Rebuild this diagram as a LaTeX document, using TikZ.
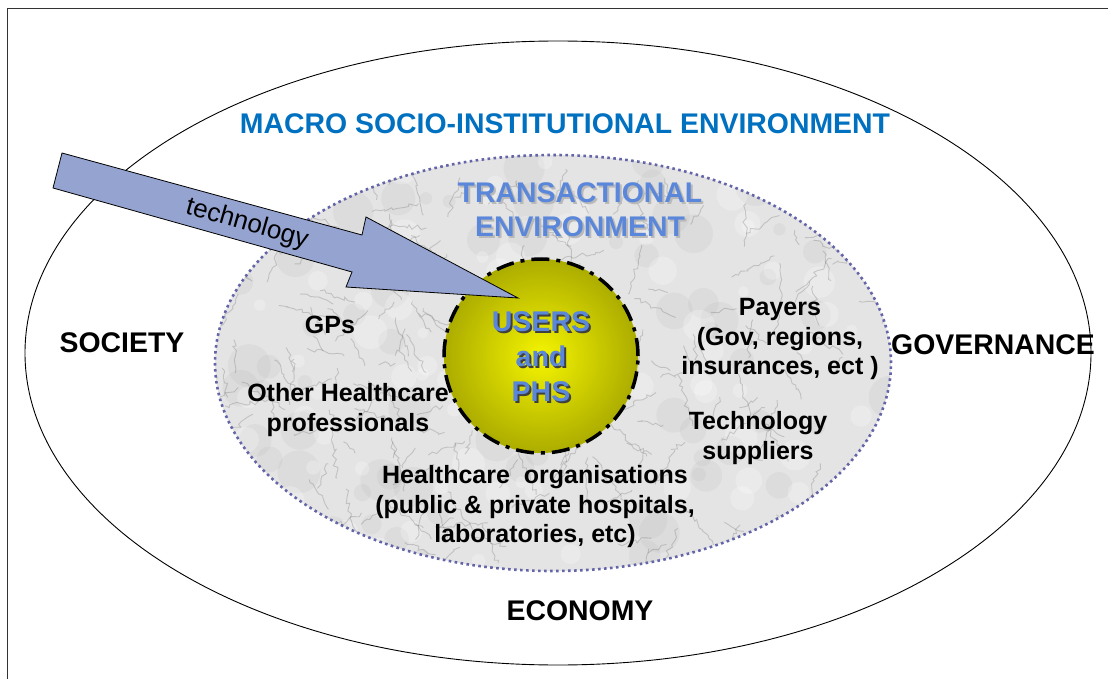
\documentclass[tikz,border=0pt]{standalone}
\usepackage{fontspec}
\setmainfont{Liberation Sans}
\usetikzlibrary{shapes.geometric,decorations.pathmorphing}

\definecolor{macroblue}{HTML}{0070C0}
\definecolor{transblue}{HTML}{5B87DA}
\definecolor{dotpurple}{HTML}{6464A8}
\definecolor{arrowfill}{HTML}{94A3D0}
\definecolor{coreedge}{HTML}{ACAC00}
\definecolor{corecentre}{HTML}{F4F400}
\definecolor{marblebase}{HTML}{E4E4E4}

\tikzset{
  bigcaps/.style={font=\fontsize{28.4}{34}\selectfont\bfseries},
  label/.style={font=\fontsize{25}{29.5}\selectfont\bfseries, align=center, text=black},
  vein/.style={gray!70!black, opacity=0.25, line width=0.9pt, decorate,
    decoration={random steps, segment length=4pt, amplitude=2.5pt}},
  blotch/.style={gray!80!black, opacity=0.06},
}

\begin{document}
\begin{tikzpicture}[x=1pt,y=-1pt]
\useasboundingbox (0,0) rectangle (1108,679);
\fill[white] (0,0) rectangle (1108,679);

% page frame
\coordinate (frameBL) at (7,679);
\coordinate (frameTL) at (7,9);
\coordinate (frameTR) at (1108,9);
\draw[line width=1pt, black!80] (frameBL) -- (frameTL) -- (frameTR);

% macro environment
\node[ellipse, draw, line width=0.9pt, minimum width=1066pt, minimum height=624pt, inner sep=0pt] (macro) at (558,353) {};

% transactional environment: marble fill
\begin{scope}
  \clip (553,363) ellipse [x radius=338pt, y radius=208pt];
  \fill[marblebase] (200,140) rectangle (900,590);
  \pgfmathsetseed{7}
  \foreach \k in {1,...,90}{
    \pgfmathsetmacro{\mx}{215+676*rnd}
    \pgfmathsetmacro{\my}{155+416*rnd}
    \pgfmathsetmacro{\mr}{6+16*rnd}
    \fill[blotch] (\mx,\my) circle (\mr pt);
  }
  \foreach \k in {1,...,90}{
    \pgfmathsetmacro{\mx}{215+676*rnd}
    \pgfmathsetmacro{\my}{155+416*rnd}
    \pgfmathsetmacro{\mr}{5+12*rnd}
    \fill[white, opacity=0.25] (\mx,\my) circle (\mr pt);
  }
  \foreach \k in {1,...,240}{
    \pgfmathsetmacro{\mx}{215+676*rnd}
    \pgfmathsetmacro{\my}{155+416*rnd}
    \pgfmathsetmacro{\ma}{360*rnd}
    \pgfmathsetmacro{\ml}{15+40*rnd}
    \draw[vein] (\mx,\my) -- ++(\ma:\ml pt);
  }
\end{scope}
\node[ellipse, draw=dotpurple, line width=2.6pt, dash pattern=on 2.6pt off 3.4pt,
      minimum width=676pt, minimum height=416pt, inner sep=0pt] (trans) at (553,363) {};

% users and PHS core
\node[circle, minimum size=194pt, inner sep=0pt, inner color=corecentre, outer color=coreedge] (coreFill) at (541,356) {};
\node[circle, draw, line width=3.5pt, dash pattern=on 18pt off 7pt on 4pt off 7pt,
      minimum size=194pt, inner sep=0pt] (core) at (541,356) {};

% technology arrow
\draw[fill=arrowfill, line width=0.8pt, line join=miter]
  (62,153) -- (362,235) -- (366,217) -- (518,298) -- (346,287) -- (352,272) -- (53,188) -- cycle;
\node[font=\fontsize{26}{30}\selectfont, rotate=-16] (tech) at (247,224) {technology};

% headings
\node[bigcaps, text=macroblue] (macroTitle) at (565,124) {MACRO SOCIO-INSTITUTIONAL ENVIRONMENT};
\node[bigcaps, align=center, text=gray!55] (transShadow) at (582,212) {TRANSACTIONAL\\ENVIRONMENT};
\node[bigcaps, align=center, text=transblue] (transTitle) at (580,210) {TRANSACTIONAL\\ENVIRONMENT};

\node[bigcaps] (society) at (122,343) {SOCIETY};
\node[bigcaps] (governance) at (993,345) {GOVERNANCE};
\node[bigcaps] (economy) at (580,611) {ECONOMY};

% core label
\node[font=\fontsize{28.5}{35}\selectfont\bfseries, align=center, text=black!75] (usersShadow) at (543,359) {USERS\\and\\PHS};
\node[font=\fontsize{28.5}{35}\selectfont\bfseries, align=center, text=transblue] (users) at (541,357) {USERS\\and\\PHS};

% actors
\node[label] (gps) at (330,325) {GPs};
\node[label] (others) at (348,410) {Other Healthcare\\professionals};
\node[label] (payers) at (780,339) {Payers\\(Gov, regions,\\insurances, ect )};
\node[label] (suppliers) at (758,438) {Technology\\suppliers};
\node[label] (orgs) at (535,507) {Healthcare~ organisations\\(public \& private hospitals,\\laboratories, etc)};
\end{tikzpicture}
\end{document}
